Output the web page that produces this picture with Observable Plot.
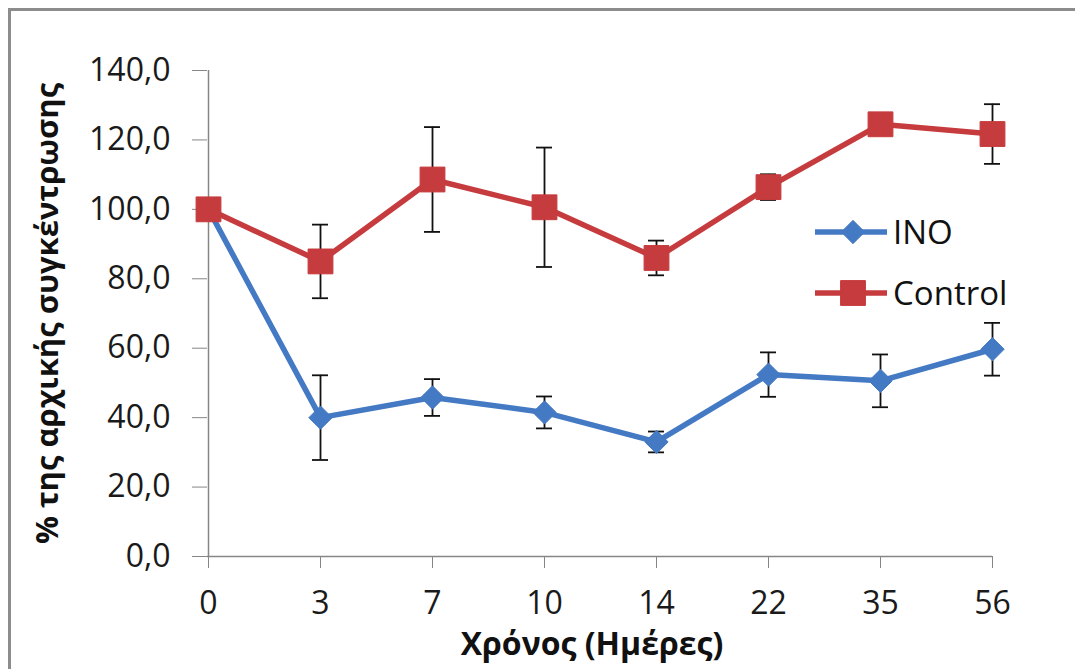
<!DOCTYPE html>
<html>
<head>
<meta charset="utf-8">
<script src="https://cdn.jsdelivr.net/npm/d3@7"></script>
<script src="https://cdn.jsdelivr.net/npm/@observablehq/plot@0.6"></script>
<style>
  body { margin: 0; background: #fff; }
  #wrap { position: relative; width: 1075px; height: 669px; overflow: hidden; background: #fff; font-family: "Open Sans", sans-serif; }
  #frame { position: absolute; left: 8px; top: 8px; width: 1100px; height: 700px; border-left: 3px solid #8c8c8c; border-top: 3px solid #8c8c8c; box-sizing: border-box; }
  #chart { position: absolute; left: 0; top: 0; }
  #legend { position: absolute; left: 815px; top: 201px; }
  .item { display: flex; align-items: center; height: 61px; }
  .item span { font-size: 33px; color: #111; margin-left: 6px; line-height: 1; }
</style>
</head>
<body>
<div id="wrap">
  <div id="frame"></div>
  <div id="chart"></div>
  <div id="legend"></div>
</div>
<script>
// ---- data ----
const days = ["0", "3", "7", "10", "14", "22", "35", "56"];
const ino = [100, 40.0, 45.8, 41.5, 33.0, 52.4, 50.6, 59.7];
const inoErr = [0, 12.2, 5.3, 4.6, 3.0, 6.4, 7.6, 7.6];
const control = [100, 85.0, 108.6, 100.6, 86.0, 106.4, 124.5, 121.7];
const controlErr = [0, 10.6, 15.1, 17.2, 5.0, 3.7, 1.5, 8.6];
const yTicks = [0, 20, 40, 60, 80, 100, 120, 140];
const seriesNames = ["INO", "Control"];
const xTitle = "Χρόνος (Ημέρες)";
const yTitle = "% της αρχικής συγκέντρωσης";

const colors = { INO: "#4479C4", Control: "#C63B3D" };
const symbols = { INO: "diamond2", Control: "square" };
const sizes = { INO: 10.5, Control: 14 };

const rows = [];
days.forEach((d, i) => {
  rows.push({ day: d, series: "INO", v: ino[i], e: inoErr[i] });
});
days.forEach((d, i) => {
  rows.push({ day: d, series: "Control", v: control[i], e: controlErr[i] });
});
const errRows = rows.filter(r => r.e > 0);

const font = '"Open Sans", sans-serif';
const marks = [
  Plot.ruleY([0], { stroke: "#868686", strokeWidth: 1.5 }),
  Plot.ruleX([days[0]], { stroke: "#868686", strokeWidth: 1.5 }),
  Plot.axisY({ ticks: yTicks, tickSize: 15, tickPadding: 22, tickFormat: d => d.toFixed(1).replace(".", ","), label: null, stroke: "#868686", fill: "#1a1a1a", fontSize: 32, letterSpacing: "0.5px" }),
  Plot.axisX({ tickSize: 12, tickPadding: 23, label: null, stroke: "#868686", fill: "#1a1a1a", fontSize: 32 }),
  Plot.text([xTitle], { frameAnchor: "bottom", dx: -8, dy: 98, lineAnchor: "bottom", textAnchor: "middle", fontWeight: "bold", fontSize: 32, letterSpacing: "0.5px", fill: "#111" }),
  Plot.text([yTitle], { frameAnchor: "left", dx: -172, rotate: -90, lineAnchor: "top", textAnchor: "middle", fontWeight: "bold", fontSize: 31, fill: "#111" })
];
for (const s of seriesNames) {
  const data = rows.filter(r => r.series === s);
  const err = errRows.filter(r => r.series === s);
  marks.push(
    Plot.ruleX(err, { x: "day", y1: d => d.v - d.e, y2: d => d.v + d.e, stroke: "#111", strokeWidth: 1.8 }),
    Plot.ruleY(err, { x1: "day", x2: "day", y: d => d.v + d.e, insetLeft: -8, insetRight: -8, stroke: "#111", strokeWidth: 1.8 }),
    Plot.ruleY(err, { x1: "day", x2: "day", y: d => d.v - d.e, insetLeft: -8, insetRight: -8, stroke: "#111", strokeWidth: 1.8 }),
    Plot.line(data, { x: "day", y: "v", stroke: colors[s], strokeWidth: 5.5, strokeLinejoin: "round" }),
    Plot.dot(data, { x: "day", y: "v", symbol: symbols[s], r: sizes[s], fill: colors[s], stroke: colors[s], strokeWidth: 1 })
  );
}

const chart = Plot.plot({
  width: 1075,
  height: 669,
  marginLeft: 207,
  marginRight: 83,
  marginTop: 70,
  marginBottom: 113,
  style: { fontFamily: font, background: "transparent", overflow: "visible" },
  x: { type: "point", domain: days, padding: 0 },
  y: { domain: [0, 140] },
  marks
});
document.getElementById("chart").appendChild(chart);

// ---- legend ----
const legend = d3.select("#legend");
for (const s of seriesNames) {
  const item = legend.append("div").attr("class", "item");
  const svg = item.append("svg").attr("width", 72).attr("height", 32);
  svg.append("line").attr("x1", 0).attr("x2", 72).attr("y1", 16).attr("y2", 16)
    .attr("stroke", colors[s]).attr("stroke-width", 5.5);
  const size = Math.PI * sizes[s] * sizes[s];
  const sym = s === "INO" ? d3.symbolDiamond2 : d3.symbolSquare;
  svg.append("path").attr("transform", "translate(38,16)")
    .attr("d", d3.symbol(sym, size)()).attr("fill", colors[s]).attr("stroke", colors[s]);
  item.append("span").text(s);
}
</script>
</body>
</html>
